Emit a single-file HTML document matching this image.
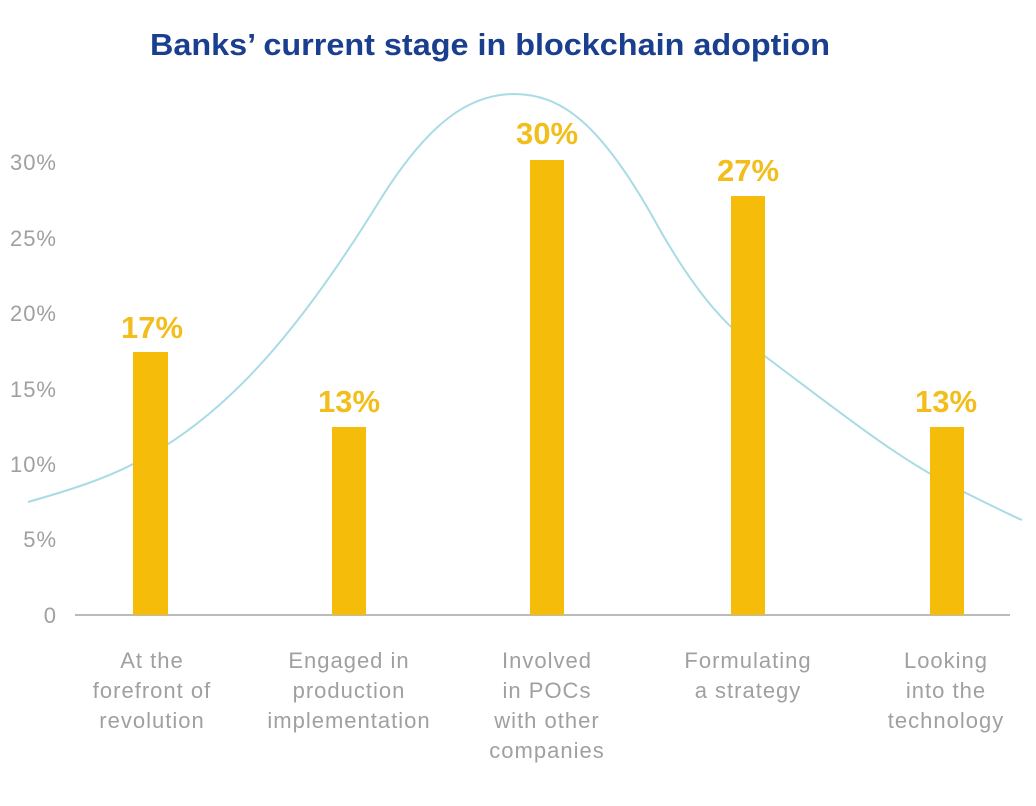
<!DOCTYPE html>
<html><head><meta charset="utf-8"><style>
html,body{margin:0;padding:0;background:#fff;}
svg{display:block}
</style></head><body>
<svg width="1036" height="806" viewBox="0 0 1036 806" xmlns="http://www.w3.org/2000/svg">
<rect width="1036" height="806" fill="#fff"/>
<text x="490" y="55" text-anchor="middle" font-family="Liberation Sans, sans-serif" font-weight="bold" font-size="31" fill="#1b3f8f" textLength="680" lengthAdjust="spacingAndGlyphs">Banks’ current stage in blockchain adoption</text>
<g font-family="Liberation Sans, sans-serif" font-size="22" fill="#a0a0a0" text-anchor="end" letter-spacing="1">
<text x="57" y="170">30%</text>
<text x="57" y="246">25%</text>
<text x="57" y="321">20%</text>
<text x="57" y="397">15%</text>
<text x="57" y="472">10%</text>
<text x="57" y="547">5%</text>
<text x="57" y="623">0</text>
</g>
<line x1="75" y1="615" x2="1010" y2="615" stroke="#bbb" stroke-width="2"/>
<path d="M28,502 C70,490 110,478 150,455 C230,410 300,330 380,200 C430,120 470,95 513,94 C560,94 600,120 660,230 C700,300 730,330 770,360 C850,420 900,460 960,490 C990,505 1010,515 1022,520" fill="none" stroke="#a9dbe6" stroke-width="2"/>
<g fill="#f5bd0a">
<rect x="133" y="352" width="35" height="263"/>
<rect x="332" y="427" width="34" height="188"/>
<rect x="530" y="160" width="34" height="455"/>
<rect x="731" y="196" width="34" height="419"/>
<rect x="930" y="427" width="34" height="188"/>
</g>
<g font-family="Liberation Sans, sans-serif" font-weight="bold" font-size="31" fill="#f2be1c" text-anchor="middle">
<text x="152" y="338">17%</text>
<text x="349" y="412">13%</text>
<text x="547" y="144">30%</text>
<text x="748" y="181">27%</text>
<text x="946" y="412">13%</text>
</g>
<g font-family="Liberation Sans, sans-serif" font-size="22" fill="#a0a0a0" text-anchor="middle" letter-spacing="1">
<text x="152" y="668">At the</text><text x="152" y="698">forefront of</text><text x="152" y="728">revolution</text>
<text x="349" y="668">Engaged in</text><text x="349" y="698">production</text><text x="349" y="728">implementation</text>
<text x="547" y="668">Involved</text><text x="547" y="698">in POCs</text><text x="547" y="728">with other</text><text x="547" y="758">companies</text>
<text x="748" y="668">Formulating</text><text x="748" y="698">a strategy</text>
<text x="946" y="668">Looking</text><text x="946" y="698">into the</text><text x="946" y="728">technology</text>
</g>
</svg>
</body></html>
